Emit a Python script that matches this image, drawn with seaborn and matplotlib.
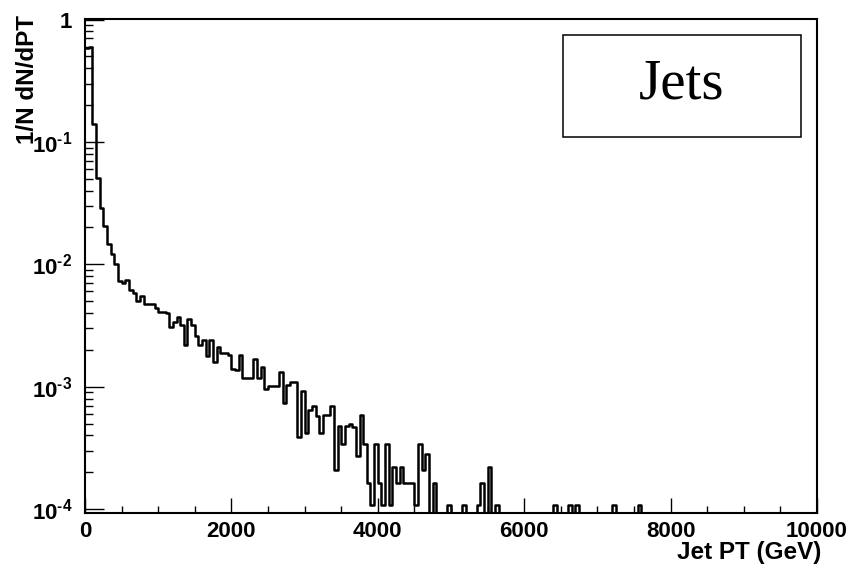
import numpy as np
import pandas as pd
import matplotlib
matplotlib.use("Agg")
import matplotlib.pyplot as plt
import seaborn as sns
from matplotlib.patches import Rectangle
from matplotlib.ticker import MultipleLocator, FixedLocator, FixedFormatter, LogLocator, NullFormatter

# ---------------- data ----------------
bin_width = 50.0                     # GeV
pt_min, pt_max = 0.0, 10000.0

# 1/N dN/dPT for the first 96 bins (0 - 4800 GeV)
dense_values = [
    0.58, 0.60, 0.139, 0.051, 0.029, 0.0205, 0.0146, 0.0122, 0.0100, 0.0073,
    0.0071, 0.0075, 0.0062, 0.0058, 0.0050, 0.0055, 0.0047, 0.0047, 0.0047, 0.0044,
    0.0041, 0.0041, 0.0040, 0.0031, 0.0034, 0.0037, 0.0032, 0.0022, 0.0036, 0.0032,
    0.0026, 0.0022, 0.0024, 0.00177, 0.0024, 0.00158, 0.0021, 0.0019, 0.0019, 0.0018,
    0.0014, 0.00137, 0.0018, 0.00118, 0.00118, 0.00118, 0.00168, 0.00118, 0.00146, 0.00095,
    0.00102, 0.00102, 0.00102, 0.00131, 0.00074, 0.00104, 0.0011, 0.0011, 0.00039, 0.00093,
    0.00042, 0.00065, 0.0007, 0.00058, 0.00042, 0.00059, 0.00059, 0.0007, 0.00021, 0.00048,
    0.00034, 0.00048, 0.00050, 0.00047, 0.00027, 0.00059, 0.00034, 0.000165, 0.000108, 0.00034,
    0.000165, 0.000108, 0.00034, 0.000108, 0.00022, 0.000165, 0.00022, 0.000165, 0.000165, 0.000165,
    0.000108, 0.00034, 0.00021, 0.00028, 0.0, 0.000165,
]

# isolated non-empty bins in the tail (lower bin edge in GeV, value)
tail_pt = [4950, 5150, 5350, 5400, 5500, 5600, 6400, 6600, 6700, 7200, 7550]
tail_values = [1.08e-4, 1.08e-4, 1.08e-4, 1.65e-4, 2.2e-4, 1.08e-4,
               1.08e-4, 1.08e-4, 1.08e-4, 1.08e-4, 1.08e-4]

y_tick_values = [1e-4, 1e-3, 1e-2, 1e-1, 1.0]
y_tick_labels = [r"$\mathbf{10^{\text{-}4}}$", r"$\mathbf{10^{\text{-}3}}$",
                 r"$\mathbf{10^{\text{-}2}}$", r"$\mathbf{10^{\text{-}1}}$", r"$\mathbf{1}$"]
x_label = "Jet PT (GeV)"
y_label = "1/N dN/dPT"
legend_text = "Jets"

# ---------------- build histogram table ----------------
n_bins = int(round((pt_max - pt_min) / bin_width))
values = np.zeros(n_bins)
values[:len(dense_values)] = dense_values
for p, v in zip(tail_pt, tail_values):
    values[int(round(p / bin_width))] = v
centers = pt_min + bin_width * (np.arange(n_bins) + 0.5)
df = pd.DataFrame({"pt": centers, "w": values})

# ---------------- style ----------------
sns.set_theme(style="white")
plt.rcParams["font.family"] = ["Liberation Sans", "DejaVu Sans"]
plt.rcParams["mathtext.fontset"] = "custom"
plt.rcParams["mathtext.rm"] = "Liberation Sans:bold"
plt.rcParams["mathtext.bf"] = "Liberation Sans:bold"
plt.rcParams["axes.linewidth"] = 1.5
plt.rcParams["axes.labelcolor"] = "black"
plt.rcParams["text.color"] = "black"

fig = plt.figure(figsize=(8.51, 5.71), dpi=100)
fig.patch.set_facecolor("white")
ax = fig.add_axes([85 / 851, 1 - 513 / 571, 732 / 851, 494 / 571])
ax.set_facecolor("white")

sns.histplot(data=df, x="pt", weights="w", binwidth=bin_width,
             binrange=(pt_min, pt_max), element="step",
             fill=False, color="black", linewidth=1.8, ax=ax)

ax.set_yscale("log")
ax.set_xlim(pt_min, pt_max)
ax.set_ylim(9.3e-5, 1.01)

for s in ax.spines.values():
    s.set_color("black")
    s.set_linewidth(1.5)

ax.xaxis.set_major_locator(MultipleLocator(2000))
ax.xaxis.set_minor_locator(MultipleLocator(500))
ax.yaxis.set_major_locator(FixedLocator(y_tick_values))
ax.yaxis.set_major_formatter(FixedFormatter(y_tick_labels))
ax.yaxis.set_minor_locator(LogLocator(base=10, subs=np.arange(2, 10), numticks=30))
ax.yaxis.set_minor_formatter(NullFormatter())

ax.tick_params(axis="both", which="both", direction="in", bottom=True, left=True,
               top=False, right=False, color="black", width=1.0, labelcolor="black")
ax.tick_params(axis="x", which="major", length=11, pad=6, labelsize=16)
ax.tick_params(axis="x", which="minor", length=5)
ax.tick_params(axis="y", which="major", length=14, pad=9, labelsize=16)
ax.tick_params(axis="y", which="minor", length=6)
for lab in ax.get_xticklabels():
    lab.set_fontweight("bold")

ax.set_xlabel(x_label, fontsize=17.5, fontweight="bold", loc="right", color="black")
ax.xaxis.set_label_coords(1.006, -0.056)
ax.set_ylabel(y_label, fontsize=17.5, fontweight="bold", loc="top", color="black")
ax.yaxis.set_label_coords(-0.063, 1.008)

# "Jets" box
bx0, by0, bx1, by1 = 0.653, 0.761, 0.978, 0.9676
ax.add_patch(Rectangle((bx0, by0), bx1 - bx0, by1 - by0, transform=ax.transAxes,
                       facecolor="white", edgecolor="black", linewidth=1.1, zorder=5))
ax.text((bx0 + bx1) / 2, (by0 + by1) / 2 + 0.004, legend_text, transform=ax.transAxes,
        ha="center", va="center", fontsize=41, family="Liberation Serif",
        color="black", zorder=6)

fig.savefig("out.png", dpi=100, facecolor="white")
